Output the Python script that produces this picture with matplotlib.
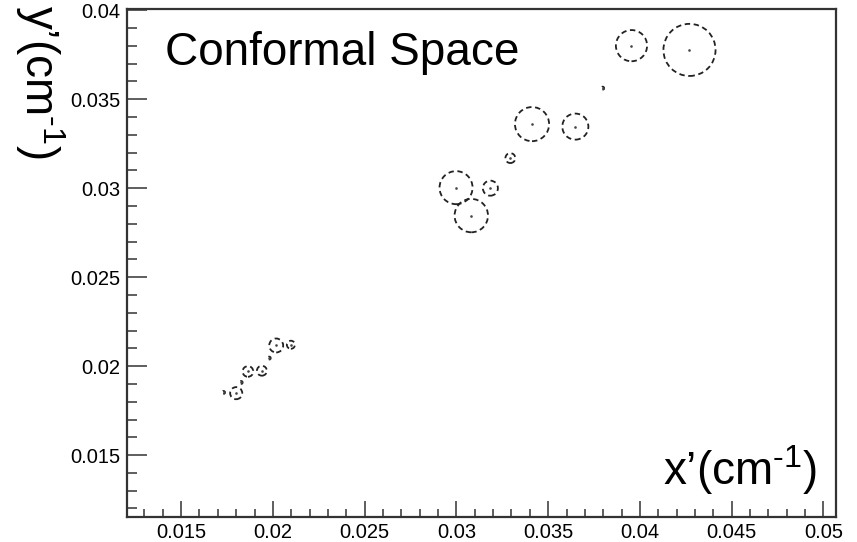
"""
Conformal space: hit positions with dashed error circles
"""

import numpy as np
import matplotlib
matplotlib.use('Agg')
import matplotlib.pyplot as plt
from matplotlib.patches import Ellipse
from matplotlib.ticker import MultipleLocator

plt.rcParams['font.family'] = ['Liberation Sans', 'DejaVu Sans']
plt.rcParams['mathtext.fontset'] = 'custom'
plt.rcParams['mathtext.rm'] = 'Liberation Sans'
plt.rcParams['mathtext.default'] = 'regular'

# ---- data (conformal coordinates, circle radius in x' units) ----
x_conf = [0.03954, 0.0427, 0.03797, 0.03648, 0.03412, 0.03294, 0.02998,
          0.03185, 0.03081, 0.02018, 0.02098, 0.0198, 0.01864, 0.0194,
          0.01827, 0.0180, 0.01731]
y_conf = [0.03801, 0.03777, 0.03562, 0.03346, 0.0336, 0.03169, 0.03003,
          0.0300, 0.02846, 0.02116, 0.0212, 0.02045, 0.0197, 0.01974,
          0.01908, 0.01848, 0.01852]
radius = [0.00085, 0.00142, 0.00008, 0.00071, 0.00093, 0.00027, 0.0009,
          0.00041, 0.00091, 0.00038, 0.00022, 0.00008, 0.00029, 0.00027,
          0.00008, 0.00033, 0.00008]

xlim = (0.01205, 0.05067)
ylim = (0.01152, 0.04007)

fig = plt.figure(figsize=(8.57, 5.42), dpi=100)
ax = fig.add_axes([0.1482, 0.0461, 0.8270, 0.9373])
ax.set_xlim(*xlim)
ax.set_ylim(*ylim)

# pixel scale so circles stay round
fig_w, fig_h = fig.get_size_inches() * fig.dpi
pos = ax.get_position()
sx = pos.width * fig_w / (xlim[1] - xlim[0])
sy = pos.height * fig_h / (ylim[1] - ylim[0])

for x, y, r in zip(x_conf, y_conf, radius):
    ax.add_patch(Ellipse((x, y), 2 * r, 2 * r * sx / sy, fill=False,
                         edgecolor='#222222', linewidth=1.3,
                         linestyle=(0, (3, 2))))
ax.plot(x_conf, y_conf, linestyle='none', marker='s', markersize=0.8,
        color='#444444')

# ROOT-like axes
ax.xaxis.set_minor_locator(MultipleLocator(0.001))
ax.yaxis.set_minor_locator(MultipleLocator(0.001))
ax.set_xticks(np.arange(0.015, 0.0501, 0.005))
ax.set_xticklabels(['0.015', '0.02', '0.025', '0.03', '0.035', '0.04', '0.045', '0.05'])
ax.set_yticks(np.arange(0.015, 0.0401, 0.005))
ax.set_yticklabels(['0.015', '0.02', '0.025', '0.03', '0.035', '0.04'])
ax.tick_params(axis='x', which='major', direction='in', length=11.5, width=1.1,
               labelsize=14.5, pad=4, color='#333333')
ax.tick_params(axis='x', which='minor', direction='in', length=5.8, width=1.1,
               color='#333333')
ax.tick_params(axis='y', which='major', direction='in', length=14.4, width=1.1,
               labelsize=14.5, pad=5, color='#333333')
ax.tick_params(axis='y', which='minor', direction='in', length=7.2, width=1.1,
               color='#333333')
for s in ax.spines.values():
    s.set_linewidth(1.6)
    s.set_color('#333333')

# titles
fig.text(165 / 857, 1 - 65 / 542, 'Conformal Space', fontsize=33,
         ha='left', va='baseline')
fig.text(817 / 857, 1 - 485 / 542, 'x\u2019(cm$^{\\text{-1}}$)', fontsize=33,
         ha='right', va='baseline')
fig.text(40 / 857, 1 - 5 / 542, 'y\u2019(cm$^{\\text{-1}}$)', fontsize=33,
         rotation=270, ha='center', va='top')

plt.savefig('out.png', dpi=100)
